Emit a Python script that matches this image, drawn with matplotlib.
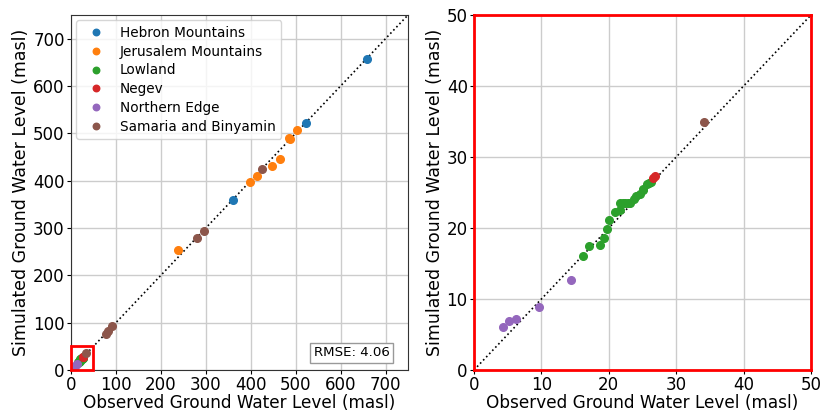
import matplotlib
matplotlib.use("Agg")
import matplotlib.pyplot as plt
from matplotlib.patches import Rectangle

# observed / simulated ground water level (masl) per region
regions = ["Hebron Mountains", "Jerusalem Mountains", "Lowland", "Negev",
           "Northern Edge", "Samaria and Binyamin"]
colors = ["tab:blue", "tab:orange", "tab:green", "tab:red", "tab:purple", "tab:brown"]

hebron_obs = [659, 523, 361]
hebron_sim = [656, 521, 359]
jerusalem_obs = [503, 488, 486, 465, 447, 413, 398, 239]
jerusalem_sim = [508, 489, 490, 446, 432, 409, 397, 253]
lowland_obs = [16.1, 17.0, 18.7, 19.3, 19.8, 20.1, 20.9, 21.7, 21.7, 22.1, 22.4, 22.8,
               23.1, 23.8, 24.1, 24.6, 25.0, 25.1, 25.6, 26.0, 26.3]
lowland_sim = [16.0, 17.5, 17.6, 18.6, 19.9, 21.1, 22.2, 22.5, 23.5, 23.5, 23.5, 23.5,
               23.5, 24.1, 24.5, 24.8, 25.5, 25.4, 26.2, 26.4, 26.5]
negev_obs = [26.5, 26.8]
negev_sim = [27.1, 27.3]
northern_obs = [4.3, 5.2, 6.2, 9.7, 14.4]
northern_sim = [6.1, 6.9, 7.2, 8.9, 12.7]
samaria_obs = [426, 297, 280, 92, 82, 77, 34.1]
samaria_sim = [424, 294, 279, 92, 82, 76, 34.9]

observed = [hebron_obs, jerusalem_obs, lowland_obs, negev_obs, northern_obs, samaria_obs]
simulated = [hebron_sim, jerusalem_sim, lowland_sim, negev_sim, northern_sim, samaria_sim]

rmse_text = "RMSE: 4.06"
full_lim = 750
zoom_lim = 50

fig = plt.figure(figsize=(8.33, 4.12), dpi=100)
ax1 = fig.add_axes([71 / 833, 42 / 412, 337 / 833, 355 / 412])
ax2 = fig.add_axes([474 / 833, 42 / 412, 337 / 833, 355 / 412])

for ax, lim in [(ax1, full_lim), (ax2, zoom_lim)]:
    ax.set_axisbelow(True)
    ax.grid(True, color="#cccccc", lw=1.0)
    for name, c, xs, ys in zip(regions, colors, observed, simulated):
        ax.plot(xs, ys, "o", color=c, ms=5.5, label=name, zorder=3)
    ax.plot([0, lim], [0, lim], ":", color="black", lw=1.2, zorder=2)
    ax.set_xlim(0, lim)
    ax.set_ylim(0, lim)
    ax.set_xlabel("Observed Ground Water Level (masl)", fontsize=12.2, labelpad=0)
    ax.set_ylabel("Simulated Ground Water Level (masl)", fontsize=12.5, labelpad=2)
    ax.tick_params(labelsize=12, pad=1.5, length=3)
    for sp in ax.spines.values():
        sp.set_color("#333333")

ax1.set_xticks(range(0, 701, 100))
ax1.set_yticks(range(0, 701, 100))
ax2.set_xticks(range(0, 51, 10))
ax2.set_yticks(range(0, 51, 10))

ax1.add_patch(Rectangle((0, 0), zoom_lim, zoom_lim, edgecolor="red", facecolor="none",
                        lw=2, zorder=4, clip_on=False))
for sp in ax2.spines.values():
    sp.set_color("red")
    sp.set_linewidth(2)

ax1.legend(loc="upper left", fontsize=9.8, labelspacing=0.35, markerscale=0.85,
           borderaxespad=0.4)
ax1.text(0.945, 0.03, rmse_text, transform=ax1.transAxes, ha="right", va="bottom",
         fontsize=9.6, bbox=dict(facecolor="white", edgecolor="#999999", pad=2.5))

fig.savefig("out.png", dpi=100)
